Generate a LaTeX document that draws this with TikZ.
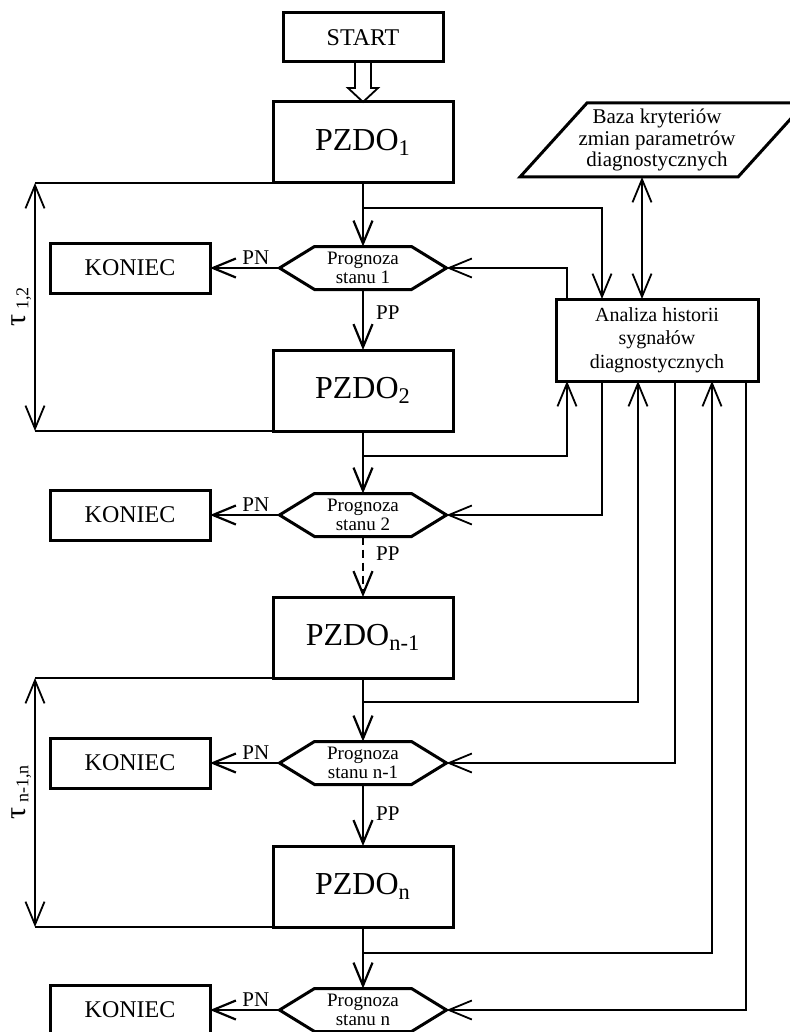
\documentclass[tikz,border=0pt]{standalone}
\usepackage{fontspec}
\setmainfont{Liberation Serif}
\usetikzlibrary{arrows.meta,positioning}

\begin{document}
\begin{tikzpicture}[x=0.5pt, y=-0.5pt,
	box/.style={draw, line width=1.5pt, outer sep=0pt, minimum width=90pt, minimum height=40.5pt, font=\fontsize{16}{18}\selectfont},
	term/.style={draw, line width=1.5pt, outer sep=0pt, minimum width=80pt, minimum height=25pt, font=\fontsize{12}{14}\selectfont},
	prog/.style={minimum width=83.5pt, minimum height=21.5pt, inner sep=0pt, outer sep=0pt, align=center, font=\fontsize{9.5}{9.2}\selectfont},
	arr/.style={line width=1.1pt, -{Straight Barb[length=11.5pt, width=9.5pt]}},
	feed/.style={line width=0.9pt},
	feedarr/.style={feed, -{Straight Barb[length=11.5pt, width=9.5pt]}},
	dblarr/.style={feed, {Straight Barb[length=11.5pt, width=9.5pt]}-{Straight Barb[length=11.5pt, width=9.5pt]}},
	lab/.style={font=\fontsize{10.5}{12}\selectfont, inner sep=1pt}]
	\useasboundingbox (0,0) rectangle (789,1032);

	\node (start) at (363,37.5) [term, minimum height=24.5pt] {START};
	\node (pzdo1) at (363,142.5) [box] {PZDO\textsubscript{1}};
	\node (pzdo2) at (363,390.5) [box] {PZDO\textsubscript{2}};
	\node (pzdon1) at (363,637.5) [box] {PZDO\textsubscript{n-1}};
	\node (pzdon) at (363,886.5) [box] {PZDO\textsubscript{n}};

	\node (prog1) at (363,268) [prog] {Prognoza\\stanu 1};
	\node (prog2) at (363,515) [prog] {Prognoza\\stanu 2};
	\node (prog3) at (363,763) [prog] {Prognoza\\stanu n-1};
	\node (prog4) at (363,1010) [prog] {Prognoza\\stanu n};

	\node (kon1) at (130,268) [term] {KONIEC};
	\node (kon2) at (130,515) [term] {KONIEC};
	\node (kon3) at (130,763) [term] {KONIEC};
	\node (kon4) at (130,1010) [term] {KONIEC};

	\node (analiza) at (657,340) [draw, line width=1.5pt, outer sep=0pt, minimum width=101pt, minimum height=41pt, align=center, font=\fontsize{10}{11.75}\selectfont] {Analiza historii\\sygnałów\\diagnostycznych};
	\node (baza) at (657,140) [minimum height=37pt, inner sep=0pt, outer sep=0pt, align=center, font=\fontsize{10.5}{10.75}\selectfont] {Baza kryteriów\\zmian parametrów\\diagnostycznych};
	\draw[line width=1.5pt] (520,177) -- (587,103) -- (805,103) -- (738,177) -- cycle;

	% hexagons
	\foreach \p in {prog1,prog2,prog3,prog4}
		\draw[line width=1.5pt] (\p.west) -- ([xshift=17.5pt]\p.north west) -- ([xshift=-17.5pt]\p.north east) -- (\p.east) -- ([xshift=-17.5pt]\p.south east) -- ([xshift=17.5pt]\p.south west) -- cycle;

	% hollow arrow from START
	\draw[line width=0.9pt] ([xshift=-4pt]start.south) -- ([xshift=-4pt,yshift=7pt]pzdo1.north) -- ([xshift=-7.5pt,yshift=7pt]pzdo1.north) -- (pzdo1.north) -- ([xshift=7.5pt,yshift=7pt]pzdo1.north) -- ([xshift=4pt,yshift=7pt]pzdo1.north) -- ([xshift=4pt]start.south);

	% main flow
	\draw[arr] (pzdo1) -- (prog1);
	\draw[arr] (prog1) -- (pzdo2) node[lab, right=5pt, pos=0.38] {PP};
	\draw[arr] (pzdo2) -- (prog2);
	\draw[arr, dash pattern=on 4pt off 2.5pt] (prog2) -- (pzdon1) node[lab, right=5pt, pos=0.28] {PP};
	\draw[arr] (pzdon1) -- (prog3);
	\draw[arr] (prog3) -- (pzdon) node[lab, right=5pt, pos=0.47] {PP};
	\draw[arr] (pzdon) -- (prog4);
	\foreach \i in {1,...,4}
		\draw[arr] (prog\i.west) -- (kon\i.east) node[lab, above, pos=0.34] {PN};

	% feedback to and from the analysis
	\coordinate (b1) at (363,208);
	\coordinate (b2) at (363,456);
	\coordinate (b3) at (363,702);
	\coordinate (b4) at (363,953);
	\draw[feedarr] (b1) -| ([xshift=-27.5pt]analiza.north);
	\draw[feedarr] ([xshift=-45pt]analiza.north) |- (prog1.east);
	\draw[dblarr] ([xshift=-7.5pt]analiza.north) -- ([xshift=-7.5pt]baza.south);
	\draw[feedarr] (b2) -| ([xshift=-45pt]analiza.south);
	\draw[feedarr] ([xshift=-27.5pt]analiza.south) |- (prog2.east);
	\draw[feedarr] (b3) -| ([xshift=-9.5pt]analiza.south);
	\draw[feedarr] ([xshift=9pt]analiza.south) |- (prog3.east);
	\draw[feedarr] (b4) -| ([xshift=27.5pt]analiza.south);
	\draw[feedarr] ([xshift=44.5pt]analiza.south) |- (prog4.east);

	% time spans
	\coordinate (t1) at (35,183);
	\coordinate (t2) at (35,431);
	\coordinate (t3) at (35,678);
	\coordinate (t4) at (35,927);
	\draw[feed] (pzdo1.south west) -- (t1);
	\draw[feed] (pzdo2.south west) -- (t2);
	\draw[feed] (pzdon1.south west) -- (t3);
	\draw[feed] (pzdon.south west) -- (t4);
	\draw[dblarr] (t2) -- (t1) node[midway, sloped, above, inner sep=1.5pt] {{\fontsize{15}{15}\selectfont τ}\ \raisebox{-1.5pt}{\fontsize{9}{10}\selectfont 1,2}};
	\draw[dblarr] (t4) -- (t3) node[pos=0.54, sloped, above, inner sep=1.5pt] {{\fontsize{15}{15}\selectfont τ}\ \raisebox{-1.5pt}{\fontsize{9}{10}\selectfont n-1,n}};
\end{tikzpicture}
\end{document}
